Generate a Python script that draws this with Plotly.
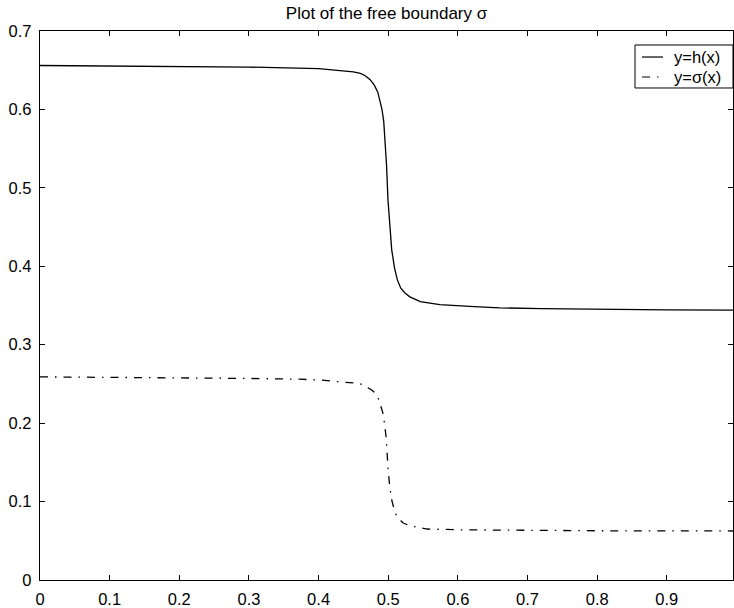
import plotly.graph_objects as go

# Data
x_h = [0.0, 0.1, 0.2, 0.3, 0.4, 0.43, 0.45, 0.46, 0.467, 0.474, 0.48, 0.485, 0.488,
       0.491, 0.4935, 0.495, 0.4975, 0.4996, 0.502, 0.505, 0.509, 0.513, 0.518, 0.524,
       0.531, 0.538, 0.546, 0.560, 0.574, 0.617, 0.660, 0.72, 0.804, 0.90, 0.995]
y_h = [0.656, 0.6555, 0.655, 0.654, 0.652, 0.650, 0.648, 0.646, 0.643, 0.638, 0.631,
       0.622, 0.612, 0.600, 0.585, 0.568, 0.530, 0.485, 0.450, 0.421, 0.398, 0.383,
       0.372, 0.366, 0.361, 0.358, 0.355, 0.353, 0.351, 0.349, 0.347, 0.346, 0.345,
       0.3445, 0.344]

x_s = [0.0, 0.1, 0.2, 0.3, 0.373, 0.402, 0.431, 0.455, 0.462, 0.468, 0.474, 0.478,
       0.482, 0.486, 0.489, 0.492, 0.494, 0.497, 0.4996, 0.502, 0.505, 0.509, 0.513,
       0.517, 0.521, 0.531, 0.543, 0.556, 0.603, 0.70, 0.80, 0.90, 0.995]
y_s = [0.259, 0.2585, 0.258, 0.257, 0.256, 0.255, 0.2526, 0.251, 0.2495, 0.247,
       0.2435, 0.241, 0.237, 0.231, 0.223, 0.214, 0.204, 0.182, 0.144, 0.120, 0.102,
       0.088, 0.080, 0.076, 0.073, 0.069, 0.067, 0.065, 0.064, 0.063, 0.0628, 0.0626,
       0.0625]

x_ticks = [0, 0.1, 0.2, 0.3, 0.4, 0.5, 0.6, 0.7, 0.8, 0.9]
y_ticks = [0, 0.1, 0.2, 0.3, 0.4, 0.5, 0.6, 0.7]
legend_labels = ["y=h(x)", "y=σ(x)"]

FONT = "Liberation Sans, Arial, Helvetica, sans-serif"
FS = 16.5
SOLID = None
DASHDOT = "8px,7px,1.5px,7px"

fig = go.Figure()
fig.add_trace(go.Scatter(x=x_h, y=y_h, mode="lines", name=legend_labels[0],
                         line=dict(color="black", width=1.3)))
fig.add_trace(go.Scatter(x=x_s, y=y_s, mode="lines", name=legend_labels[1],
                         line=dict(color="black", width=1.3, dash=DASHDOT)))

axis_common = dict(showgrid=False, zeroline=False, showline=True, linecolor="black",
                   linewidth=1.3, mirror="ticks", ticks="inside", ticklen=5,
                   tickcolor="black", tickwidth=1,
                   tickfont=dict(family=FONT, size=FS, color="black"))

fig.update_xaxes(range=[0, 0.995], tickvals=x_ticks, ticklabelstandoff=4,
                 ticktext=["0" if v == 0 else f"{v:g}" for v in x_ticks], **axis_common)
fig.update_yaxes(range=[0, 0.7], tickvals=y_ticks, ticklabelstandoff=4,
                 ticktext=["0" if v == 0 else f"{v:g}" for v in y_ticks], **axis_common)

# Hand-drawn MATLAB-style legend (paper coordinates)
box = dict(x0=0.8586, x1=1.0, y0=0.8962, y1=0.9745)
rows_y = [0.9526, 0.9162]
dashes = [SOLID, DASHDOT]
fig.add_shape(type="rect", xref="paper", yref="paper", **box,
              line=dict(color="black", width=1), fillcolor="white", layer="above")
for label, yy, dsh in zip(legend_labels, rows_y, dashes):
    ln = dict(color="black", width=1.2)
    if dsh:
        ln["dash"] = dsh
    fig.add_shape(type="line", xref="paper", yref="paper", x0=0.8687, x1=0.8990,
                  y0=yy, y1=yy, line=ln, layer="above")
    fig.add_annotation(xref="paper", yref="paper", x=0.9120, y=yy, text=label,
                       showarrow=False, xanchor="left", yanchor="middle",
                       font=dict(family=FONT, size=FS, color="black"))

fig.update_layout(
    width=734, height=608,
    margin=dict(l=40, r=1, t=31, b=28),
    paper_bgcolor="white", plot_bgcolor="white",
    title=dict(text="Plot of the free boundary σ", x=0.5266, xanchor="center",
               y=0.979, yanchor="middle",
               font=dict(family=FONT, size=17, color="black")),
    font=dict(family=FONT, color="black"),
    showlegend=False,
)

fig.write_html("out.html")
